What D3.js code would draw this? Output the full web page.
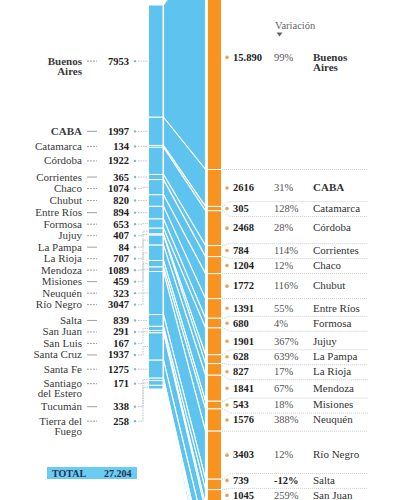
<!DOCTYPE html>
<html>
<head>
<meta charset="utf-8">
<script src="https://cdn.jsdelivr.net/npm/d3@7"></script>
<style>
body { margin: 0; background: #fff; }
svg text { font-family: "Liberation Serif", "DejaVu Serif", serif; }
</style>
</head>
<body>
<svg id="drawing_region"></svg>
<script>
// provincias (orden del gráfico)
const provinces = ["Buenos Aires", "CABA", "Catamarca", "Córdoba", "Corrientes", "Chaco", "Chubut",
    "Entre Ríos", "Formosa", "Jujuy", "La Pampa", "La Rioja", "Mendoza", "Misiones", "Neuquén",
    "Río Negro", "Salta", "San Juan", "San Luis", "Santa Cruz", "Santa Fe", "Santiago del Estero",
    "Tucumán", "Tierra del Fuego"];
const leftNames = ["Buenos|Aires", "CABA", "Catamarca", "Córdoba", "Corrientes", "Chaco", "Chubut",
    "Entre Ríos", "Formosa", "Jujuy", "La Pampa", "La Rioja", "Mendoza", "Misiones", "Neuquén",
    "Río Negro", "Salta", "San Juan", "San Luis", "Santa Cruz", "Santa Fe", "Santiago|del Estero",
    "Tucumán", "Tierra del|Fuego"];
const rightNames = ["Buenos|Aires", "CABA", "Catamarca", "Córdoba", "Corrientes", "Chaco", "Chubut",
    "Entre Ríos", "Formosa", "Jujuy", "La Pampa", "La Rioja", "Mendoza", "Misiones", "Neuquén",
    "Río Negro", "Salta", "San Juan", "San Luis", "Santa Cruz", "Santa Fe", "Santiago del Estero",
    "Tucumán", "Tierra del Fuego"];
const boldNames = ["Buenos Aires", "CABA"];

const before = [7953, 1997, 134, 1922, 365, 1074, 820, 894, 653, 407, 84, 707, 1089, 459, 323,
    3047, 839, 291, 167, 1937, 1275, 171, 338, 258];
// los últimos seis quedan fuera del recorte: valores estimados
const after = [15890, 2616, 305, 2468, 784, 1204, 1772, 1391, 680, 1901, 628, 827, 1841, 543, 1576,
    3403, 739, 1045, 450, 1700, 1900, 520, 460, 600];
const variation = [99, 31, 128, 28, 114, 12, 116, 55, 4, 367, 639, 17, 67, 18, 388,
    12, -12, 259, 169, -12, 49, 204, 36, 132];

const totalText = "27.204";
const headerText = "Variación";

const blue = "#5ec4ef", orange = "#f7931e";

const W = 400, H = 500;
const svg = d3.select("#drawing_region").attr("width", W).attr("height", H);

// escala común para las dos columnas
const totalBefore = d3.sum(before);
const colTop = 5, colBottom = 389;
const k = (colBottom - colTop) / totalBefore;
const yB = d3.scaleLinear().domain([0, totalBefore]).range([colTop, colBottom]);
const topA = 169.5 - after[0] * k;
const yA = d3.scaleLinear().domain([0, totalBefore]).range([topA, topA + totalBefore * k]);

const cumB = [0, ...d3.cumsum(before)];
const cumA = [0, ...d3.cumsum(after)];

const rows = provinces.map((p, i) => ({
    name: p, i: i,
    b0: yB(cumB[i]), b1: yB(cumB[i + 1]),
    a0: yA(cumA[i]), a1: yA(cumA[i + 1]),
}));

const xBlue = 148.5, wBlue = 14.5, xBand0 = 163.5, xBand1 = 205.5, xOr = 207.5, wOr = 14;

// bandas
svg.append("g").selectAll("path").data(rows).join("path")
    .attr("d", d => `M${xBand0},${d.b0}L${xBand1},${d.a0}L${xBand1},${d.a1}L${xBand0},${d.b1}Z`)
    .attr("fill", blue)
    .attr("stroke", "#fff")
    .attr("stroke-width", 1.1);

// columna azul
svg.append("g").selectAll("rect").data(rows).join("rect")
    .attr("x", xBlue).attr("width", wBlue)
    .attr("y", d => d.b0).attr("height", d => d.b1 - d.b0)
    .attr("fill", blue).attr("stroke", "#fff").attr("stroke-width", 1);

// columna naranja
svg.append("g").selectAll("rect").data(rows).join("rect")
    .attr("x", xOr).attr("width", wOr)
    .attr("y", d => d.a0).attr("height", d => d.a1 - d.a0)
    .attr("fill", orange).attr("stroke", "#fff").attr("stroke-width", 1);

// reparto de etiquetas
function spread(centers, gapFn) {
    const out = [];
    centers.forEach((c, i) => {
        out.push(i === 0 ? c : Math.max(c, out[i - 1] + gapFn(i - 1)));
    });
    return out;
}
// relajación simétrica (las etiquetas se empujan en ambos sentidos)
function relax(centers, gap) {
    const y = centers.slice();
    for (let it = 0; it < 300; it++) {
        for (let i = 0; i < y.length - 1; i++) {
            const o = gap - (y[i + 1] - y[i]);
            if (o > 0) { y[i] -= o / 2; y[i + 1] += o / 2; }
        }
    }
    return y;
}
const fmt = v => v >= 10000 ? d3.format(",")(v).replace(/,/g, ".") : String(v);
const multi = s => s.includes("|");

const leftY = spread(rows.map(d => (d.b0 + d.b1) / 2), i => {
    if (multi(leftNames[i])) return 23;
    if (multi(leftNames[i + 1])) return 14.5;
    return 11.5;
});
const rightY = relax(rows.map(d => (d.a0 + d.a1) / 2), 15);

// lado izquierdo
const left = svg.append("g");
rows.forEach((d, i) => {
    const y = leftY[i];
    const c = (d.b0 + d.b1) / 2;
    leftNames[i].split("|").forEach((l, j) => {
        left.append("text")
            .attr("x", 82).attr("y", y + 3.5 + j * 10)
            .attr("text-anchor", "end")
            .attr("font-size", 11)
            .attr("fill", "#3a3a3a")
            .attr("font-weight", boldNames.includes(d.name) ? "bold" : "normal")
            .text(l);
    });
    left.append("line")
        .attr("x1", 87).attr("x2", 97).attr("y1", y).attr("y2", y)
        .attr("stroke", "#888").attr("stroke-width", 0.8)
        .attr("stroke-dasharray", i % 3 === 1 ? null : "2,1");
    left.append("text")
        .attr("x", 129).attr("y", y + 3.5)
        .attr("text-anchor", "end")
        .attr("font-size", 10.5).attr("font-weight", "bold")
        .attr("fill", "#222")
        .text(fmt(before[i]));
    left.append("circle").attr("cx", 135).attr("cy", y).attr("r", 1.2).attr("fill", "#7fb8d0");
    left.append("path")
        .attr("d", `M138,${y}H143V${c}H148`)
        .attr("fill", "none").attr("stroke", "#a9a9b3")
        .attr("stroke-width", 0.7).attr("stroke-dasharray", "1.5,1");
});

// total
left.append("rect").attr("x", 47).attr("y", 467).attr("width", 90).attr("height", 12).attr("fill", "#6ccbf0");
left.append("text").attr("x", 52).attr("y", 476.5).attr("font-size", 10).attr("font-weight", "bold")
    .attr("fill", "#1d3550").text("TOTAL");
left.append("text").attr("x", 104).attr("y", 476.5).attr("font-size", 10).attr("font-weight", "bold")
    .attr("fill", "#1d3550").text(totalText);

// lado derecho
const right = svg.append("g");
right.append("text").attr("x", 275).attr("y", 29).attr("font-size", 10.5).attr("fill", "#666").text(headerText);
right.append("path").attr("d", "M276.5,32.5L282.5,32.5L279.5,36.5Z").attr("fill", "#666");

rows.forEach((d, i) => {
    if (i === 0 || d.a0 > H) return;
    const b = d.a0;
    const sep = Math.min(Math.max(b, rightY[i - 1] + 8), rightY[i] - 7);
    right.append("path")
        .attr("d", Math.abs(sep - b) < 1 ? `M222,${b}H368` : `M222,${b}C226,${b} 226,${sep} 232,${sep}H368`)
        .attr("fill", "none").attr("stroke", "#b9b9b9")
        .attr("stroke-width", 0.7).attr("stroke-dasharray", "1,1");
});

rows.forEach((d, i) => {
    const y = rightY[i];
    if (y > H - 2) return; // fuera del recorte
    right.append("circle").attr("cx", 227).attr("cy", y).attr("r", 1.8).attr("fill", "#e5a366");
    right.append("text").attr("x", 233).attr("y", y + 3.3)
        .attr("font-size", 10.5).attr("font-weight", "bold").attr("fill", "#222")
        .text(fmt(after[i]));
    right.append("text").attr("x", 274).attr("y", y + 3.3)
        .attr("font-size", 10.5)
        .attr("font-weight", variation[i] < 0 ? "bold" : "normal")
        .attr("fill", variation[i] < 0 ? "#222" : "#555")
        .text(variation[i] + "%");
    rightNames[i].split("|").forEach((l, j) => {
        right.append("text").attr("x", 313).attr("y", y + 3.3 + j * 10)
            .attr("font-size", 11)
            .attr("font-weight", boldNames.includes(d.name) ? "bold" : "normal")
            .attr("fill", "#333")
            .text(l);
    });
});
</script>
</body>
</html>
